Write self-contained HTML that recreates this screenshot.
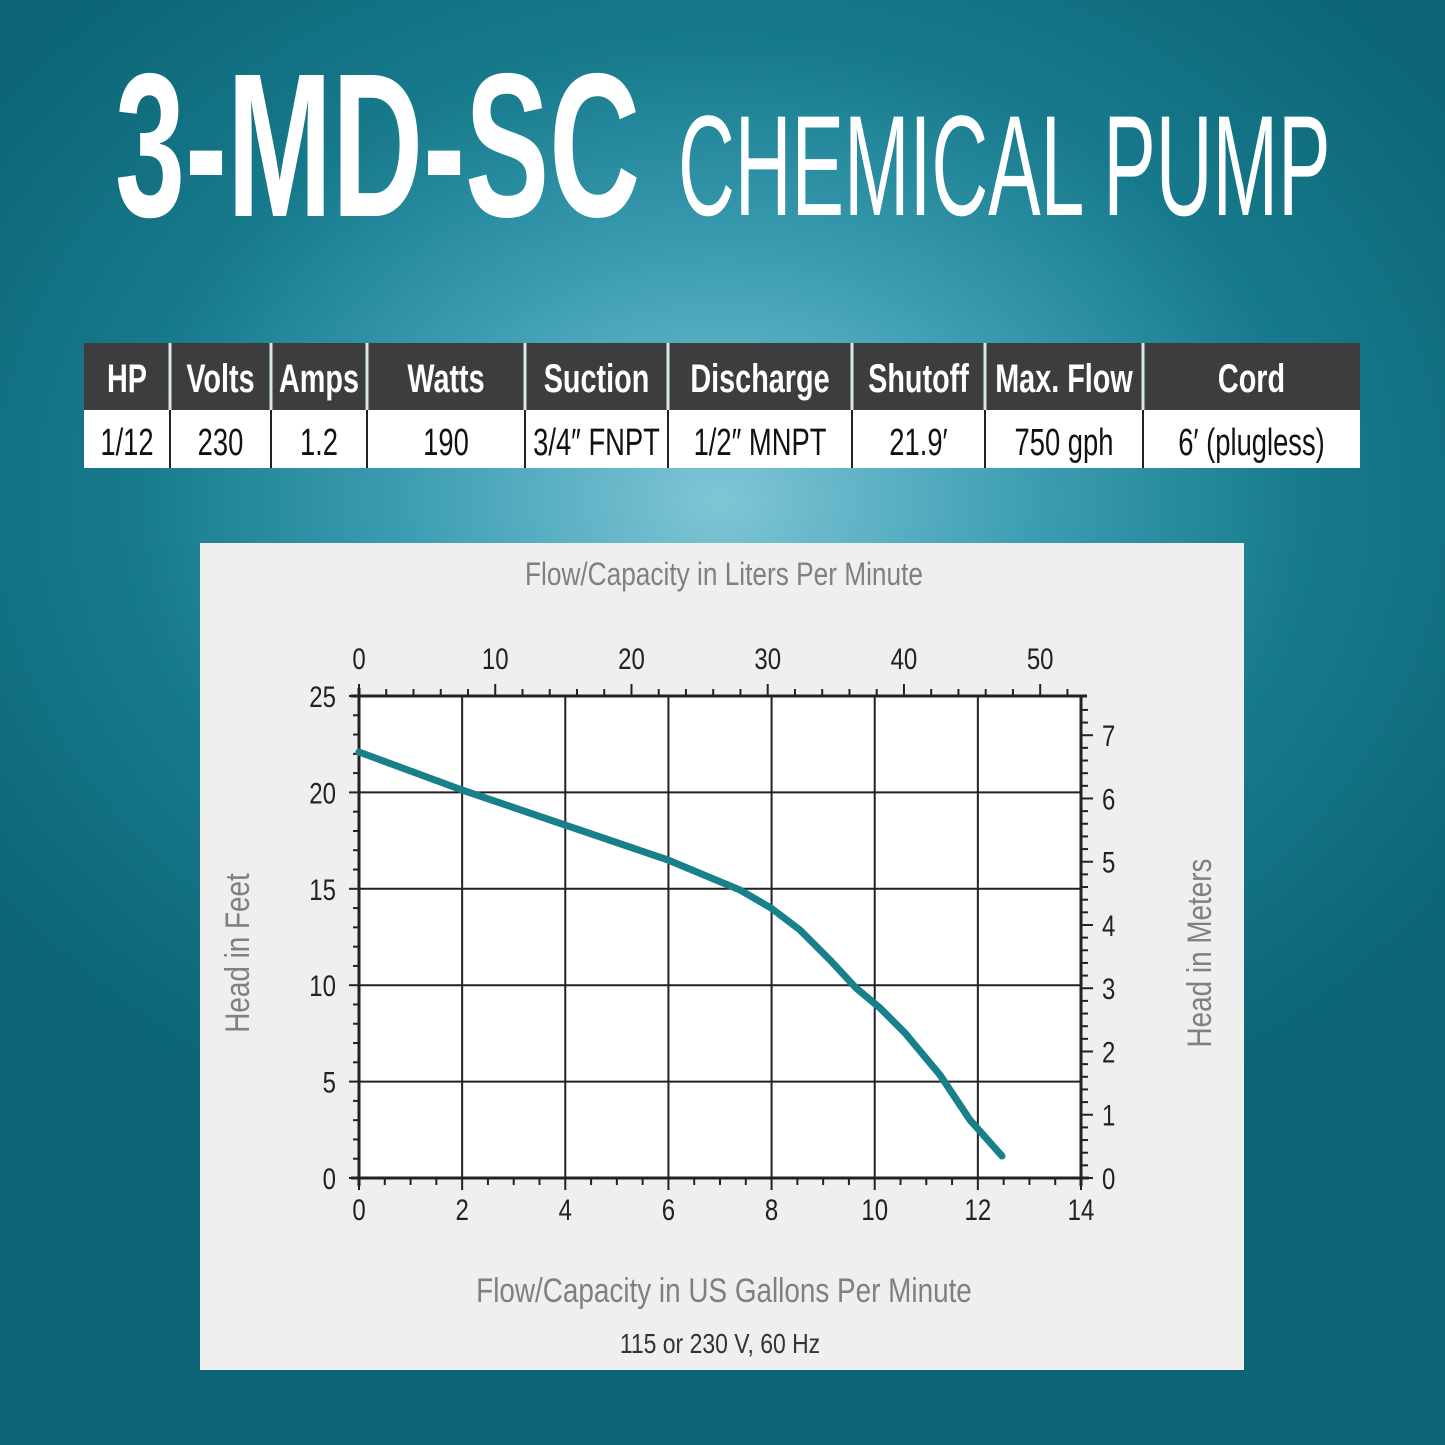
<!DOCTYPE html>
<html><head><meta charset="utf-8"><style>
html,body{margin:0;padding:0;width:1445px;height:1445px;overflow:hidden}
body{background:radial-gradient(ellipse 900px 700px at 720px 500px,#7fc6d6 0%,#3c9db2 35%,#177a8c 65%,#0b6575 100%)}
svg{position:absolute;left:0;top:0}
</style></head><body>
<svg id="s" width="1445" height="1445" viewBox="0 0 1445 1445" font-family="Liberation Sans, sans-serif">
<text x="115" y="216" font-size="205" font-weight="bold" fill="#fff" transform="translate(115 0) scale(0.615 1) translate(-115 0)">3-MD-SC</text>
<text x="678" y="215" font-size="143" fill="#fff" transform="translate(678 0) scale(0.55 1) translate(-678 0)">CHEMICAL PUMP</text>
<rect x="84" y="343" width="1276" height="67" fill="#3d3d3d"/>
<rect x="84" y="410" width="1276" height="58" fill="#fff"/>
<g id="tbl"></g>
<rect x="200" y="543" width="1044" height="827" fill="#efefef"/>
<rect x="359" y="696" width="722" height="482" fill="#fff"/>
<g id="grid" stroke="#222" stroke-width="2" fill="none"></g>
<path d="M359,752 L462,790 L565,825 L668,860 L740,890 L771,908 L800,930 L830,960 L856,988 L880,1008 L905,1033 L940,1075 L970,1120 L1002,1156" fill="none" stroke="#17808a" stroke-width="7" stroke-linecap="round" stroke-linejoin="round"/>
<g id="lbl" font-size="30" fill="#222"></g>
<text x="724" y="585" font-size="32" fill="#808080" text-anchor="middle" transform="translate(724 0) scale(0.82 1) translate(-724 0)">Flow/Capacity in Liters Per Minute</text>
<text x="724" y="1302" font-size="34" fill="#808080" text-anchor="middle" transform="translate(724 0) scale(0.82 1) translate(-724 0)">Flow/Capacity in US Gallons Per Minute</text>
<text x="720" y="1353" font-size="28" fill="#333" text-anchor="middle" transform="translate(720 0) scale(0.82 1) translate(-720 0)">115 or 230 V, 60 Hz</text>
<text transform="translate(249 953) rotate(-90) scale(0.82 1)" font-size="34" fill="#808080" text-anchor="middle">Head in Feet</text>
<text transform="translate(1211 953) rotate(-90) scale(0.82 1)" font-size="34" fill="#808080" text-anchor="middle">Head in Meters</text>
</svg>
<script>
const NS="http://www.w3.org/2000/svg";
function el(p,t,a,txt){const e=document.createElementNS(NS,t);for(const k in a)e.setAttribute(k,a[k]);if(txt!==undefined)e.textContent=txt;document.getElementById(p).appendChild(e);return e;}
// table
const cols=[84,170,271,367,525,668,852,985,1143,1360];
const hd=["HP","Volts","Amps","Watts","Suction","Discharge","Shutoff","Max. Flow","Cord"];
const rw=["1/12","230","1.2","190","3/4\u2033 FNPT","1/2\u2033 MNPT","21.9\u2032","750 gph","6\u2032 (plugless)"];
for(let i=0;i<9;i++){const cx=(cols[i]+cols[i+1])/2;
 el("tbl","text",{x:cx,y:392,"font-size":40,"font-weight":"bold",fill:"#fff","text-anchor":"middle",transform:`translate(${cx} 0) scale(0.72 1) translate(${-cx} 0)`},hd[i]);
 el("tbl","text",{x:cx,y:455,"font-size":38,fill:"#111","text-anchor":"middle",transform:`translate(${cx} 0) scale(0.72 1) translate(${-cx} 0)`},rw[i]);
 if(i>0){el("tbl","rect",{x:cols[i]-1.5,y:343,width:3,height:67,fill:"#d8e8ec"});el("tbl","rect",{x:cols[i]-1,y:410,width:2,height:58,fill:"#222"});}
}
const X0=359,X1=1081,Y0=1178,Y1=696;
const gx=g=>X0+(X1-X0)*g/14, fy=f=>Y0-(Y0-Y1)*f/25;
// grid
for(let g=2;g<=12;g+=2)el("grid","line",{x1:gx(g),y1:Y1,x2:gx(g),y2:Y0});
for(let f=5;f<=20;f+=5)el("grid","line",{x1:X0,y1:fy(f),x2:X1,y2:fy(f)});
el("grid","rect",{x:X0,y:Y1,width:X1-X0,height:Y0-Y1,"stroke-width":1.5});
el("grid","line",{x1:X0,y1:Y1-8,x2:X0,y2:Y0+8,"stroke-width":3});
el("grid","line",{x1:X0-8,y1:Y0,x2:X1+8,y2:Y0,"stroke-width":3});
el("grid","line",{x1:X0-8,y1:Y1,x2:X1+6,y2:Y1,"stroke-width":3});
el("grid","line",{x1:X1,y1:Y1,x2:X1,y2:Y0+8,"stroke-width":3});
// bottom ticks
for(let g=0;g<=14.001;g+=0.5){const x=gx(g);const maj=Math.abs(g-Math.round(g/2)*2)<1e-6;el("grid","line",{x1:x,y1:Y0,x2:x,y2:Y0+(maj?12:7)});}
// left ticks
for(let f=0;f<=25;f++){const y=fy(f);el("grid","line",{x1:X0-(f%5==0?10:6),y1:y,x2:X0,y2:y});}
// top liters
const gpl=0.264172;
for(let l=0;l<=52;l+=2){const x=gx(l*gpl);if(x>X1+1)break;el("grid","line",{x1:x,y1:Y1,x2:x,y2:Y1-(l%10==0?12:7)});}
// right meters
for(let m=0;m<=7.6;m+=0.2){const y=fy(m*3.28084);if(y<Y1)break;const maj=Math.abs(m-Math.round(m))<1e-6;el("grid","line",{x1:X1,y1:y,x2:X1+(maj?12:7),y2:y});}
// labels
function T(x,y,s,anc){el("lbl","text",{x:x,y:y,"text-anchor":anc||"middle",transform:`translate(${x} 0) scale(0.8 1) translate(${-x} 0)`},s);}
for(let g=0;g<=14;g+=2)T(gx(g),1220,String(g));
for(let f=0;f<=25;f+=5)T(336,fy(f)+11,String(f),"end");
for(let l=0;l<=50;l+=10)T(gx(l*gpl),669,String(l));
for(let m=0;m<=7;m++)T(1102,fy(m*3.28084)+11,String(m),"start");
</script>
</body></html>
